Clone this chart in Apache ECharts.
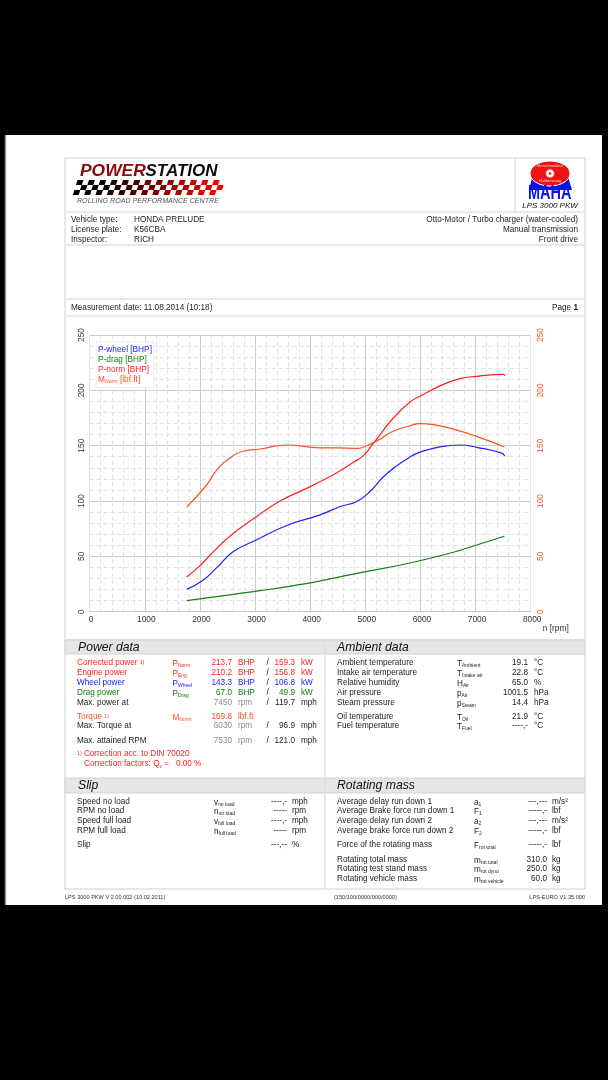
<!DOCTYPE html>
<html><head><meta charset="utf-8">
<style>html,body{margin:0;padding:0;background:#000}#c{width:608px;height:1080px}</style>
<script src="https://cdn.jsdelivr.net/npm/echarts@6/dist/echarts.min.js"></script>
</head><body><div id="c"></div>
<script>
const pWheel=[[1760,20.2],[2063,28.7],[2305,39.8],[2607,54.3],[3031,65],[3575,77.9],[4180,87.5],[4543,95],[4845,99.6],[5084,108.6],[5387,124.6],[5810,139.7],[5991,144.2],[6354,149],[6717,150.6],[7020,148.5],[7474,143.3],[7528,140.6]];
const pDrag=[[1760,10],[2607,15.7],[3091,19],[3696,23.5],[4180,27.8],[4782,34],[5810,44],[6597,53.7],[7020,60.3],[7522,68.2]];
const pNorm=[[1760,31.4],[2002,41.6],[2244,54.3],[2607,70.9],[3031,86],[3454,100],[4000,113],[4500,126],[4782,135],[4963,141],[5145,152],[5507,175],[5810,189.5],[5991,194.6],[6354,204],[6717,210.6],[7020,212.7],[7504,214.4],[7530,213]];
const mNorm=[[1760,94.5],[2123,114.7],[2305,128],[2577,140],[2789,145],[3091,147],[3575,150.6],[4180,148],[4479,148],[4872,147.5],[5023,150],[5235,155],[5507,163],[5810,168],[5991,170],[6234,169],[6597,165],[7020,158.4],[7522,148.8]];
const seriesNames=['P-wheel [BHP]','P-drag [BHP]','P-norm [BHP]','M{s|Norm} [lbf.ft]'];
const xTicks=[0,1000,2000,3000,4000,5000,6000,7000,8000];
const yTicks=[0,50,100,150,200,250];

const RED='#ff2020',BLUE='#2020ff',GREEN='#108010',ORG='#ff5020',GREY='#8c8c8c',INK='#1c1c1c';
const vehicleLeft=[['Vehicle type:','HONDA PRELUDE'],['License plate:','K56CBA'],['Inspector:','RICH']];
const vehicleRight=['Otto-Motor / Turbo charger (water-cooled)','Manual transmission','Front drive'];
const powerRows=[
 [663,'Corrected power {u|1)}','P{s|Norm}','213.7','BHP','159.3','kW',RED,RED],
 [673,'Engine power','P{s|Eng}','210.2','BHP','156.8','kW',RED,RED],
 [683,'Wheel power','P{s|Wheel}','143.3','BHP','106.8','kW',BLUE,BLUE],
 [693,'Drag power','P{s|Drag}','67.0','BHP','49.9','kW',GREEN,GREEN],
 [703,'Max. power at','','7450','rpm','119.7','mph',INK,GREY],
 [717,'Torque {u|1)}','M{s|Norm}','169.8','lbf.ft','','',ORG,ORG],
 [726,'Max. Torque at','','6030','rpm','96.9','mph',INK,GREY],
 [741,'Max. attained RPM','','7530','rpm','121.0','mph',INK,GREY]];
const ambientRows=[
 [663,'Ambient temperature','T{s|Ambient}','19.1','°C'],
 [673,'Intake air temperature','T{s|Intake air}','22.8','°C'],
 [683,'Relative humidity','H{s|Air}','65.0','%'],
 [693,'Air pressure','p{s|Air}','1001.5','hPa'],
 [703,'Steam pressure','p{s|Steam}','14.4','hPa'],
 [717,'Oil temperature','T{s|Oil}','21.9','°C'],
 [726,'Fuel temperature','T{s|Fuel}','----,-','°C']];
const slipRows=[
 [802,'Speed no load','v{s|no load}','----,-','mph'],
 [811,'RPM no load','n{s|no load}','-----','rpm'],
 [821,'Speed full load','v{s|full load}','----,-','mph'],
 [831,'RPM full load','n{s|full load}','-----','rpm'],
 [845,'Slip','','---,--','%']];
const massRows=[
 [802,'Average delay run down 1','a{s|1}','---,---','m/s²'],
 [811,'Average Brake force run down 1','F{s|1}','-----,-','lbf'],
 [821,'Average delay run down 2','a{s|2}','---,---','m/s²'],
 [831,'Average brake force run down 2','F{s|2}','-----,-','lbf'],
 [845,'Force of the rotating mass','F{s|rot total}','-----,-','lbf'],
 [860,'Rotating total mass','m{s|rot total}','310.0','kg'],
 [869,'Rotating test stand mass','m{s|rot dyno}','250.0','kg'],
 [879,'Rotating vehicle mass','m{s|rot vehicle}','60.0','kg']];

const FONT='"Liberation Sans",Arial,sans-serif';
const g=[];
function rect(x,y,w,h,fill,stroke,lw,z){g.push({type:'rect',silent:true,z:z==null?-5:z,shape:{x,y,width:w,height:h},style:{fill:fill||'none',stroke:stroke||null,lineWidth:lw||1}});}
function line(x1,y1,x2,y2,c,lw){g.push({type:'line',silent:true,z:-4,shape:{x1,y1,x2,y2},style:{stroke:c||'#e0e0e0',lineWidth:lw||1.5}});}
function T(x,y,s,o){o=o||{};g.push({type:'text',silent:true,z:20,x,y,scaleX:o.sx||1,style:{text:s,fill:o.c||INK,font:(o.st||'')+' '+(o.w||'')+' '+(o.fs||8.2)+'px '+FONT,textAlign:o.a||'left',textVerticalAlign:'middle',
 rich:{s:{fontSize:5,fontFamily:FONT,padding:[5,0,0,0],fill:o.c||INK},u:{fontSize:5.2,fontFamily:FONT,fill:o.c||INK},b:{fontSize:8.2,fontWeight:'bold',fontFamily:FONT,fill:o.c||INK}}}});}

// page
rect(5,135,597,770,'#fff',null,0,-10);
line(5.5,135,5.5,905,'#9a9a9a',1.5);
// frames
rect(65,158,520,731,'#fff','#e0e0e0',1.5);
line(515,158,515,212);
[212,245,299,316,640].forEach(y=>line(65,y,585,y));
rect(65,640,520,14,'#e6e6e6','#d4d4d4',1,-4);
rect(65,778,520,15,'#e6e6e6','#d4d4d4',1,-4);
line(325,640,325,889,'#e0e0e0',1.5);
T(78,647.5,'Power data',{st:'italic',fs:12.2,c:'#111'});
T(337,647.5,'Ambient data',{st:'italic',fs:12.2,c:'#111'});
T(78,786,'Slip',{st:'italic',fs:12.2,c:'#111'});
T(337,786,'Rotating mass',{st:'italic',fs:12.2,c:'#111'});

// powerstation logo
T(80,171,'POWER',{st:'italic',w:'bold',fs:17.4,c:'#8a0808'});
T(145.5,171,'STATION',{st:'italic',w:'bold',fs:17,c:'#0a0a0a'});
T(77,201.5,'ROLLING ROAD PERFORMANCE CENTRE',{st:'italic',fs:7.1,c:'#555'});
for(let r=0;r<3;r++){for(let i=0;i<13;i++){
  const x0=76+r*(-1.6)+i*11.35+(r%2?5.6:0),y0=180+r*5,w=5.9,sk=1.6;
  const t=i/12,col='rgb('+Math.round(Math.max(0,(t-0.15))*255*1.15)+',0,0)';
  g.push({type:'polygon',silent:true,z:5,shape:{points:[[x0+sk,y0],[x0+w+sk,y0],[x0+w,y0+5],[x0,y0+5]]},style:{fill:col}});
}}
// maha logo
g.push({type:'polygon',silent:true,z:5,shape:{points:[[529,190],[534,170],[566,170],[572,190]]},style:{fill:'#0a14e6'}});
g.push({type:'ellipse',silent:true,z:6,shape:{cx:550,cy:173.5,rx:20,ry:12.5},style:{fill:'#f01414',stroke:'#fff',lineWidth:1}});
g.push({type:'circle',silent:true,z:7,shape:{cx:550,cy:173.5,r:3.8},style:{fill:'#fff',stroke:'#fff',lineWidth:1,lineDash:[1,1]}});
g.push({type:'circle',silent:true,z:8,shape:{cx:550,cy:173.5,r:1.3},style:{fill:'#f01414'}});
T(550,166,'Maschinenbau',{fs:4,a:'center',c:'#ffd0d0'});
T(550,181,'Haldenwang',{fs:4,a:'center',c:'#ffd0d0'});
g.push({type:'text',silent:true,z:8,x:528,y:193,scaleX:0.69,style:{text:'MAHA',fill:'#0a14e6',font:'bold 21px '+FONT,textVerticalAlign:'middle'}});
T(550,206,'LPS 3000 PKW',{st:'italic',fs:8,a:'center',c:'#111'});

vehicleLeft.forEach((r,i)=>{T(71,220+i*10,r[0]);T(134,220+i*10,r[1]);});
vehicleRight.forEach((s,i)=>T(578,220+i*10,s,{a:'right'}));
T(71,308,'Measurement date: 11.08.2014 (10:18)');
T(578,308,'Page {b|1}',{a:'right'});

powerRows.forEach(r=>{
 const [y,l,sym,v,u,v2,u2,c,c2]=r;
 T(77,y,l,{c});
 if(sym)T(172.5,y+0.5,sym,{c});
 T(232,y,v,{a:'right',c:c2});T(238,y,u,{c:c2});
 if(v2){T(266.5,y,'/',{c:INK});T(295,y,v2,{a:'right',c});T(301,y,u2,{c});}
});
T(77,754,'{u|1)} Correction acc. to DIN 70020',{c:RED});
T(84,764,'Correction factors: Q{s|v} =   0.00 %',{c:RED});
function table(rows,x0,xs,xv,xu){rows.forEach(r=>{T(x0,r[0],r[1]);if(r[2])T(xs,r[0]+0.5,r[2]);T(xv,r[0],r[3],{a:'right'});T(xu,r[0],r[4]);});}
table(ambientRows,337,457,528,534);
table(slipRows,77,214,287,292);
table(massRows,337,474,547,552);
T(65,897,'LPS 3000 PKW V 2.00.002 (10.02.2011)',{fs:5.6,c:'#333'});
T(334,897,'(150/100/0000/000/0000)',{fs:5.6,c:'#333'});
T(585,897,'LPS-EURO V1.35.000',{fs:5.6,c:'#333',a:'right'});

const chart=echarts.init(document.getElementById('c'),null,{renderer:'canvas',width:608,height:1080});
const minor={show:true,lineStyle:{color:'#e2e2e2',width:1,type:[4,3]}};
const major={show:true,lineStyle:{color:'#cccccc',width:1}};
function ser(name,data,color,yi){return {name,type:'line',data,yAxisIndex:yi||0,smooth:0.5,showSymbol:false,symbol:'none',lineStyle:{color,width:1.2},itemStyle:{color},z:5};}
chart.setOption({
 backgroundColor:'#000',animation:false,
 textStyle:{fontFamily:FONT},
 graphic:{elements:g},
 grid:{left:89.7,right:77.3,top:335,bottom:468.3,containLabel:false},
 legend:{left:96,top:342,orient:'vertical',icon:'none',itemWidth:0,itemHeight:8,itemGap:2,padding:[4,2,3,2],backgroundColor:'#fff',borderColor:'#ececec',borderWidth:1,z:6,
  formatter:n=>n,
  textStyle:{fontSize:8.3,fontFamily:FONT,padding:[0,0,0,-5],rich:{s:{fontSize:5.2,padding:[4,0,0,0],fontFamily:FONT,color:ORG}}},
  selectedMode:false,
  data:[{name:seriesNames[0],textStyle:{color:BLUE}},{name:seriesNames[1],textStyle:{color:GREEN}},{name:seriesNames[2],textStyle:{color:RED}},{name:seriesNames[3],textStyle:{color:ORG}}]},
 xAxis:{type:'value',min:xTicks[0],max:xTicks[xTicks.length-1],interval:1000,
  axisLine:{show:true,lineStyle:{color:'#c4c4c4'}},axisTick:{show:false},
  axisLabel:{color:'#333',fontSize:8.4,margin:4,padding:[0,0,0,3],formatter:v=>String(v)},
  splitLine:major,minorTick:{show:false,splitNumber:5},minorSplitLine:minor,
  name:'n [rpm]',nameLocation:'end',nameGap:-2,nameTextStyle:{color:'#333',fontSize:8.4,align:'left',verticalAlign:'top',padding:[13,0,0,14]}},
 yAxis:[
  {type:'value',min:0,max:250,interval:50,position:'left',
   axisLine:{show:true,lineStyle:{color:'#e4e4e4'}},axisTick:{show:false},
   axisLabel:{color:'#333',fontSize:8.4,rotate:90,margin:4,formatter:v=>String(v)},
   splitLine:major,minorTick:{show:false,splitNumber:5},minorSplitLine:minor},
  {type:'value',min:0,max:250,interval:50,position:'right',
   axisLine:{show:true,lineStyle:{color:'#e4e4e4'}},axisTick:{show:false},
   axisLabel:{color:ORG,fontSize:8.4,rotate:90,margin:6,formatter:v=>String(v)},
   splitLine:{show:false}}],
 series:[ser(seriesNames[0],pWheel,BLUE),ser(seriesNames[1],pDrag,GREEN),ser(seriesNames[2],pNorm,RED),ser(seriesNames[3],mNorm,ORG,1)]
});
</script></body></html>
